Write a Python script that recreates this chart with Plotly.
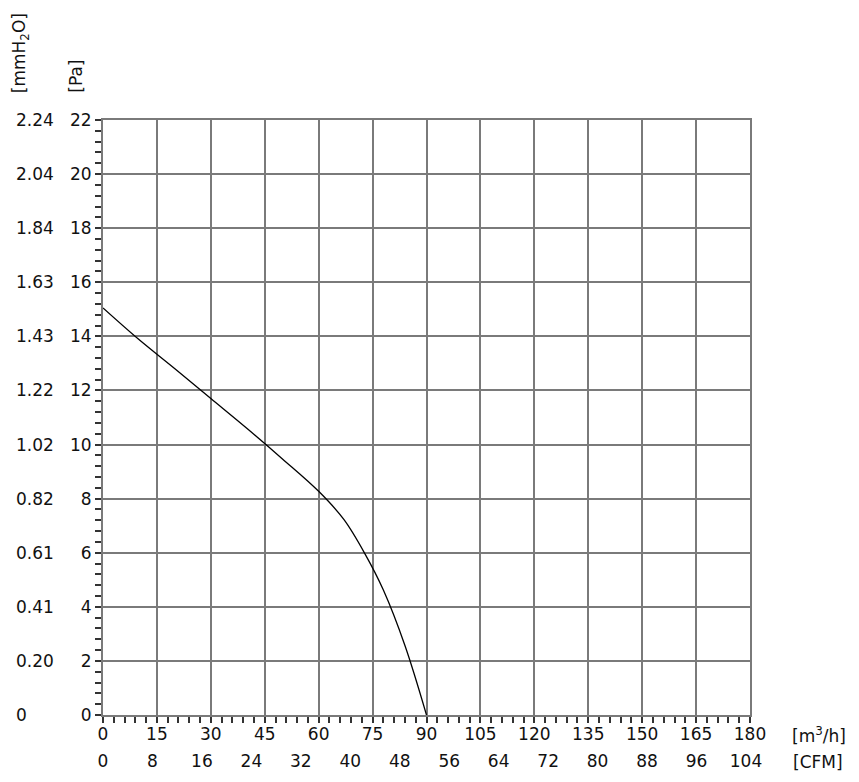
import plotly.graph_objects as go

# Curve data (airflow m3/h, static pressure Pa)
flow_m3h = [0, 10, 20, 30, 40, 50, 60, 67, 73, 78, 84, 90]
pressure_pa = [15.05, 13.88, 12.8, 11.7, 10.6, 9.46, 8.27, 7.23, 5.93, 4.62, 2.57, 0]

# Axis ticks
pa_ticks = [0, 2, 4, 6, 8, 10, 12, 14, 16, 18, 20, 22]
mmh2o_labels = ["0", "0.20", "0.41", "0.61", "0.82", "1.02", "1.22", "1.43", "1.63", "1.84", "2.04", "2.24"]
m3h_ticks = [0, 15, 30, 45, 60, 75, 90, 105, 120, 135, 150, 165, 180]
cfm_ticks = [0, 8, 16, 24, 32, 40, 48, 56, 64, 72, 80, 88, 96, 104]
CFM_PER_M3H = 0.5814

FONT = "DejaVu Sans"
FS = 17
GRID = "#7a7a7a"

fig = go.Figure()
fig.add_trace(go.Scatter(
    x=flow_m3h, y=pressure_pa, mode="lines",
    line=dict(color="black", width=1.3, shape="spline", smoothing=1.0),
    showlegend=False, hoverinfo="skip",
))
# dummy trace for CFM axis
fig.add_trace(go.Scatter(x=[0], y=[0], xaxis="x2", mode="markers",
                         marker=dict(opacity=0), showlegend=False, hoverinfo="skip"))

fig.update_layout(
    width=851, height=774,
    margin=dict(l=95, r=109, t=112, b=67),
    paper_bgcolor="white", plot_bgcolor="white",
    font=dict(family=FONT, size=FS, color="#111"),
    xaxis=dict(
        range=[0, 180], tickvals=m3h_ticks, showgrid=True, gridcolor=GRID, gridwidth=2,
        ticks="outside", ticklen=6, tickcolor="#333", tickwidth=1.5,
        minor=dict(dtick=3, ticks="outside", ticklen=6, tickcolor="#333", tickwidth=1.5, showgrid=False),
        showline=True, linecolor=GRID, linewidth=2, mirror=True, zeroline=False,
        ticklabelstandoff=-3,
        tickfont=dict(family=FONT, size=FS, color="#111"),
    ),
    xaxis2=dict(
        range=[0, 180 * CFM_PER_M3H], tickvals=cfm_ticks, overlaying="x", side="bottom",
        anchor="y", showgrid=False, ticks="", showline=False, zeroline=False,
        ticklabelstandoff=34,
        tickfont=dict(family=FONT, size=FS, color="#111"),
    ),
    yaxis=dict(
        range=[0, 22], tickvals=pa_ticks, showgrid=True, gridcolor=GRID, gridwidth=2,
        ticks="outside", ticklen=6, tickcolor="#333", tickwidth=1.5,
        minor=dict(dtick=0.4, ticks="outside", ticklen=6, tickcolor="#333", tickwidth=1.5, showgrid=False),
        showline=True, linecolor=GRID, linewidth=2, mirror=True, zeroline=False,
        tickfont=dict(family=FONT, size=FS, color="#111"),
    ),
)

annotations = []
for v, lab in zip(pa_ticks, mmh2o_labels):
    annotations.append(dict(x=-0.137, xref="paper", y=v, yref="y", text=lab,
                            showarrow=False, xanchor="left", yanchor="middle",
                            font=dict(family=FONT, size=FS, color="#111")))
annotations += [
    dict(x=-0.128, xref="paper", y=1.042, yref="paper", text="[mmH<sub>2</sub>O]",
         textangle=-90, showarrow=False, xanchor="center", yanchor="bottom",
         font=dict(family=FONT, size=FS, color="#111")),
    dict(x=-0.043, xref="paper", y=1.042, yref="paper", text="[Pa]",
         textangle=-90, showarrow=False, xanchor="center", yanchor="bottom",
         font=dict(family=FONT, size=FS, color="#111")),
    dict(x=1.062, xref="paper", y=-0.034, yref="paper", text="[m<sup>3</sup>/h]",
         showarrow=False, xanchor="left", yanchor="middle",
         font=dict(family=FONT, size=FS, color="#111")),
    dict(x=1.064, xref="paper", y=-0.079, yref="paper", text="[CFM]",
         showarrow=False, xanchor="left", yanchor="middle",
         font=dict(family=FONT, size=FS, color="#111")),
]
fig.update_layout(annotations=annotations)

fig.write_html("out.html")
